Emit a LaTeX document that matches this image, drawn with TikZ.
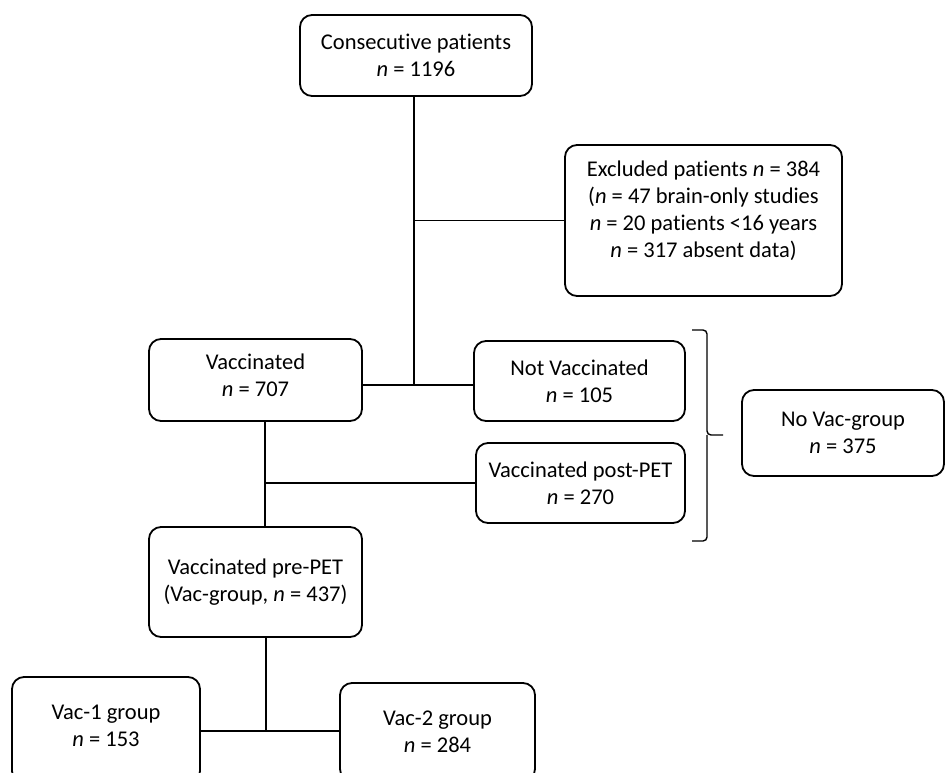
\documentclass[tikz,border=0pt]{standalone}
\usepackage{fontspec}
\setmainfont{Carlito}[Ligatures={NoCommon}]
\begin{document}
\begin{tikzpicture}[x=1pt,y=-1pt,
  box/.style={draw, line width=1.8pt, rounded corners=12pt, align=center, inner sep=0pt,
    font=\fontsize{22.5}{27}\selectfont},
  link/.style={line width=1.4pt}]
\useasboundingbox (0,0) rectangle (945,773);
\clip (0,0) rectangle (945,773);
\node[box, minimum width=232pt, minimum height=81pt] (top) at (416,55.5) {Consecutive patients\\\textit{n} = 1196};
\node[box, minimum width=277pt, minimum height=151pt] (excl) at (703.5,220.5) {Excluded patients \textit{n} = 384\\(\textit{n} = 47 brain-only studies\\\textit{n} = 20 patients <16 years\\\textit{n} = 317 absent data)\rule[-23pt]{0pt}{23pt}};
\node[box, minimum width=213pt, minimum height=82pt] (vac) at (255.5,380) {Vaccinated\\\textit{n} = 707\rule[-9pt]{0pt}{9pt}};
\node[box, minimum width=211pt, minimum height=80pt] (notvac) at (579.5,381) {Not Vaccinated\\\textit{n} = 105};
\node[box, minimum width=209pt, minimum height=80pt] (post) at (580.5,483) {Vaccinated post-PET\\\textit{n} = 270};
\node[box, minimum width=202pt, minimum height=86pt] (novac) at (843,433) {No Vac-group\\\textit{n} = 375};
\node[box, minimum width=213pt, minimum height=110pt] (pre) at (255.5,582) {Vaccinated pre-PET\\(Vac-group, \textit{n} = 437)};
\node[box, minimum width=188pt, minimum height=106pt] (vac1) at (106,730) {Vac-1 group\\\textit{n} = 153\rule[-9pt]{0pt}{9pt}};
\node[box, minimum width=195pt, minimum height=98pt] (vac2) at (437.5,732) {Vac-2 group\\\textit{n} = 284};
\coordinate (j1) at (414,385);
\coordinate (c2) at (265,0);
\coordinate (j3) at (266,731);
\draw[link] (top.south -| j1) -- (j1);
\draw[link] (excl.west -| j1) -- (excl.west);
\draw[link] (vac.east |- j1) -- (notvac.west |- j1);
\draw[link] (vac.south -| c2) -- (pre.north -| c2);
\draw[link] (post.west -| c2) -- (post.west);
\draw[link] (pre.south -| j3) -- (j3);
\draw[link] (vac1.east |- j3) -- (vac2.west |- j3);
\coordinate (bt) at (692,330);
\coordinate (bb) at (692,541);
\coordinate (btip) at (723,435);
\draw[link, rounded corners=4pt] (bt) -- (707,330) -- (707,435) -- (btip);
\draw[link, rounded corners=4pt] (bb) -- (707,541) -- (707,435);
\end{tikzpicture}
\end{document}
